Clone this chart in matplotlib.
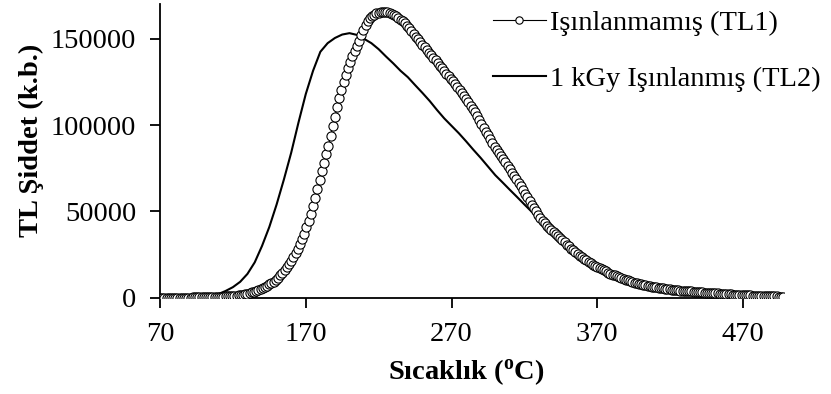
"""
Glow curve: unirradiated (TL1) vs 1 kGy irradiated (TL2) sample.
"""
import numpy as np
import matplotlib
matplotlib.use('Agg')
import matplotlib.pyplot as plt


# ── Data ─────────────────────────────────────────────────────────────────────

# TL1 sampled every 1.5 degC from 70 to 497.5
temp_tl1 = np.arange(70.0, 498.0, 1.5)
tl1 = [
    0, 10, 20, 30, 40, 40, 50, 50, 60, 70,
    80, 90, 90, 100, 110, 120, 140, 150, 170, 180,
    200, 230, 260, 290, 340, 390, 450, 520, 580, 640,
    710, 800, 900, 1000, 1120, 1250, 1400, 1570, 1800, 2050,
    2300, 2650, 3050, 3550, 4050, 4550, 5100, 5700, 6300, 7000,
    7700, 8500, 9300, 10500, 11700, 13000, 14600, 16000, 17800, 19600,
    21500, 23700, 26000, 28500, 31000, 34000, 37200, 40700, 44500, 48500,
    53000, 58000, 63000, 68200, 73300, 78300, 83000, 88000, 93500, 99300,
    105000, 110300, 115500, 120500, 125000, 129000, 133000, 136700, 140000, 143000,
    146000, 149000, 152000, 155000, 157800, 160200, 162000, 163200, 164100, 164700,
    165200, 165500, 165700, 165700, 165500, 165100, 164600, 164000, 163300, 162300,
    161200, 160100, 159000, 157600, 156400, 154800, 153000, 151300, 149700, 148200,
    146600, 145000, 143500, 142000, 140500, 139000, 137500, 136000, 134500, 133000,
    131400, 129900, 128500, 126900, 125300, 123700, 122000, 120300, 118600, 116800,
    115000, 113200, 111300, 109400, 107400, 105300, 103000, 100500, 98200, 96000,
    94000, 91900, 89700, 87600, 85800, 84000, 82200, 80300, 78400, 76500,
    74500, 72500, 70600, 68700, 66600, 64500, 62400, 60300, 58200, 56100,
    54000, 52000, 50000, 48100, 46300, 44700, 43200, 41800, 40400, 39200,
    38000, 36800, 35600, 34400, 33200, 32000, 30800, 29700, 28500, 27400,
    26200, 25200, 24200, 23300, 22400, 21600, 20800, 20000, 19200, 18500,
    17800, 17100, 16400, 15800, 15200, 14600, 14000, 13400, 12900, 12300,
    11800, 11300, 10800, 10400, 10000, 9600, 9200, 8800, 8400, 8100,
    7800, 7500, 7200, 6950, 6700, 6450, 6200, 6000, 5800, 5600,
    5400, 5200, 5000, 4800, 4650, 4500, 4350, 4200, 4100, 4000,
    3900, 3800, 3700, 3600, 3500, 3400, 3300, 3200, 3100, 3000,
    2900, 2800, 2700, 2600, 2550, 2450, 2350, 2250, 2150, 2050,
    2000, 1900, 1850, 1750, 1700, 1600, 1550, 1500, 1450, 1400,
    1300, 1250, 1200, 1150, 1100, 1050, 1000, 950, 900, 850,
    800, 760, 720, 680, 640, 600,
]

# TL2 sampled every 5 degC from 70 to 495
temp_tl2 = np.arange(70.0, 500.0, 5.0)
tl2 = [
    0, 30, 60, 100, 150, 250, 500, 1000, 2100, 3900,
    6100, 9200, 13800, 20500, 30000, 41000, 54000, 68500, 84000, 101500,
    118000, 131500, 142500, 147500, 150500, 152500, 153300, 152300, 150000, 147500,
    144000, 139800, 135800, 131500, 127800, 123200, 118700, 114000, 108800, 103900,
    99600, 95300, 90600, 85700, 81000, 76000, 71000, 66800, 62500, 58300,
    54000, 49800, 45600, 41500, 37500, 33600, 29800, 26000, 22800, 19900,
    17400, 15100, 13100, 11300, 9800, 8500, 7400, 6500, 5700, 5000,
    4400, 3900, 3500, 3100, 2800, 2500, 2200, 1950, 1700, 1500,
    1300, 1150, 1000, 850, 750, 600,
]

x_ticks = [70, 170, 270, 370, 470]
y_ticks = [0, 50000, 100000, 150000]

label_tl1 = 'Işınlanmamış (TL1)'
label_tl2 = '1 kGy Işınlanmış (TL2)'


# ── Plot ─────────────────────────────────────────────────────────────────────

plt.rcParams['font.family'] = ['Liberation Serif', 'DejaVu Serif']
plt.rcParams['mathtext.fontset'] = 'custom'
plt.rcParams['mathtext.rm'] = 'Liberation Serif'
plt.rcParams['mathtext.bf'] = 'Liberation Serif:bold'

FS = 20.5

fig = plt.figure(figsize=(8.31, 3.94), dpi=100)
ax = fig.add_axes([0.1925, 0.2444, 0.7509, 0.7446])

ax.plot(temp_tl2, tl2, '-', color='black', lw=1.5, label=label_tl2, zorder=2)
ax.plot(temp_tl1, tl1, '-o', color='black', lw=0.8, ms=6.6,
        mfc='white', mec='black', mew=0.8, label=label_tl1, zorder=3)

ax.set_xlim(70, 498)
ax.set_ylim(0, 170000)
ax.set_xticks(x_ticks)
ax.set_yticks(y_ticks)
ax.set_yticklabels([str(v) for v in y_ticks])

for side in ('top', 'right'):
    ax.spines[side].set_visible(False)
for side in ('left', 'bottom'):
    ax.spines[side].set_linewidth(1.3)

ax.tick_params(axis='both', direction='out', length=7, width=1.3,
               labelsize=FS)
ax.tick_params(axis='x', pad=10.5)
ax.tick_params(axis='y', pad=10)

ax.set_xlabel(r'Sıcaklık ($\mathbf{^{o}}$C)', fontsize=FS, fontweight='bold')
ax.set_ylabel('TL Şiddet (k.b.)', fontsize=FS, fontweight='bold')
ax.xaxis.set_label_coords(0.491, -0.202)
ax.yaxis.set_label_coords(-0.186, 0.5375)

handles, labels = ax.get_legend_handles_labels()
fig.legend(handles[::-1], labels[::-1], loc='upper left',
           bbox_to_anchor=(493 / 831, 1 - 10 / 394),
           frameon=False, fontsize=FS, borderpad=0, borderaxespad=0,
           handlelength=1.85, handletextpad=0.15, labelspacing=1.05,
           markerscale=0.8)

fig.savefig('out.png', dpi=100)
